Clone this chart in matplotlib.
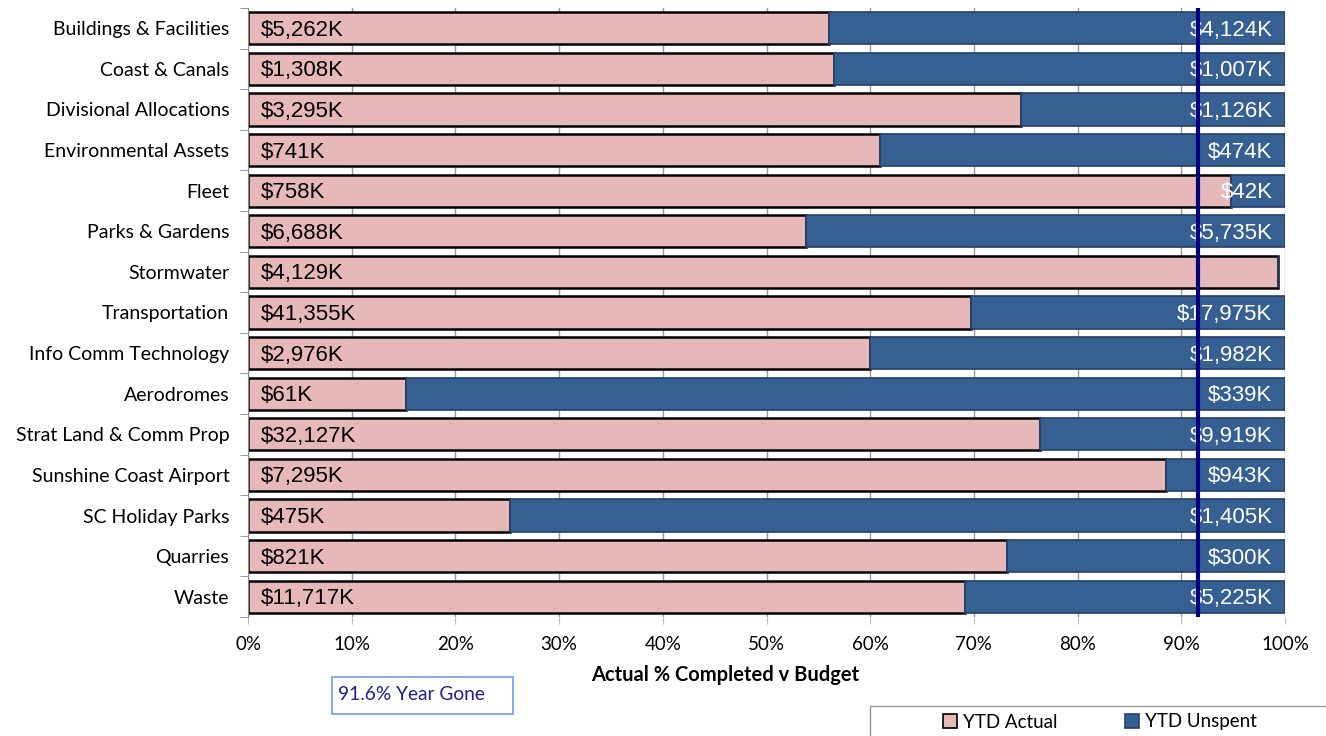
import matplotlib
matplotlib.use("Agg")
import matplotlib.pyplot as plt
from matplotlib.patches import Patch, Rectangle

# Data ($K)
categories = ['Buildings & Facilities', 'Coast & Canals', 'Divisional Allocations',
              'Environmental Assets', 'Fleet', 'Parks & Gardens', 'Stormwater',
              'Transportation', 'Info Comm Technology', 'Aerodromes',
              'Strat Land & Comm Prop', 'Sunshine Coast Airport', 'SC Holiday Parks',
              'Quarries', 'Waste']
ytd_actual = [5262, 1308, 3295, 741, 758, 6688, 4129, 41355, 2976, 61,
              32127, 7295, 475, 821, 11717]
ytd_unspent = [4124, 1007, 1126, 474, 42, 5735, -29, 17975, 1982, 339,
               9919, 943, 1405, 300, 5225]
year_gone = 0.916

pink = '#E6B9B8'
blue = '#376092'
W, H = 1326, 736

totals = [a + abs(u) for a, u in zip(ytd_actual, ytd_unspent)]
act_frac = [a / t for a, t in zip(ytd_actual, totals)]
uns_frac = [max(u, 0) / t for u, t in zip(ytd_unspent, totals)]

fig = plt.figure(figsize=(W / 100, H / 100), dpi=100)
ax = fig.add_axes([248 / W, 1 - 617 / H, 1037 / W, 609 / H])

y = list(range(len(categories)))
ax.barh(y, act_frac, height=0.79, color=pink, edgecolor='black', linewidth=1.8, zorder=2)
ax.barh(y, uns_frac, left=act_frac, height=0.79, color=blue, edgecolor='#24406A',
        linewidth=1.2, zorder=2)

for i in y:
    ax.text(0.012, i + 0.05, f'${ytd_actual[i]:,}K', ha='left', va='center', fontsize=16,
            family='Liberation Sans', color='black', zorder=3)
    if ytd_unspent[i] > 0:
        ax.text(0.988, i + 0.05, f'${ytd_unspent[i]:,}K', ha='right', va='center', fontsize=16,
                family='Liberation Sans', color='white', zorder=3)

# year gone marker, drawn over the labels
ax.axvline(year_gone, color='#000080', linewidth=3, zorder=5)

ax.set_xlim(0, 1)
ax.set_ylim(len(categories) - 0.5, -0.5)
ax.set_xticks([i / 10 for i in range(11)])
ax.set_xticklabels([f'{i * 10}%' for i in range(11)], family='Lato', fontsize=13.5)
ax.set_yticks(y)
ax.set_yticklabels(categories, family='Lato', fontsize=14)
ax.set_yticks([i + 0.5 for i in range(-1, len(categories))], minor=True)
ax.tick_params(axis='y', which='major', length=0, pad=13.5)
ax.tick_params(axis='y', which='minor', length=6, color='#888888')
ax.tick_params(axis='x', length=5, color='#bbbbbb', pad=9)
ax.xaxis.grid(True, color='#999999', linewidth=1, zorder=0)
ax.set_axisbelow(True)
for side in ['top', 'right', 'bottom']:
    ax.spines[side].set_visible(False)
ax.spines['left'].set_color('#888888')
ax.set_xlabel('Actual % Completed v Budget', family='Lato', fontsize=14.5,
              fontweight='bold')
ax.xaxis.set_label_coords((725 - 248) / 1037, -(675 - 617) / 609)
ax.xaxis.label.set_va('center')

# "Year Gone" box
fig.patches.append(Rectangle((332 / W, 1 - 714 / H), 181 / W, 37 / H, transform=fig.transFigure,
                             facecolor='white', edgecolor='#6F9FE0', linewidth=1.2))
fig.text(338 / W, 1 - 695 / H, '91.6% Year Gone', color='#1F1F8F', family='Lato',
         fontsize=13.8, va='center', ha='left')

# legend frame runs off the bottom-right edge
fig.patches.append(Rectangle((870 / W, -0.05), 470 / W, 0.05 + 30 / H, transform=fig.transFigure,
                             facecolor='white', edgecolor='#999999', linewidth=1))
handles = [Patch(facecolor=pink, edgecolor='black', linewidth=1.2, label='YTD Actual'),
           Patch(facecolor=blue, edgecolor='#24406A', linewidth=1.2, label='YTD Unspent')]
fig.legend(handles=handles, loc='center', ncol=2,
           bbox_to_anchor=(1100 / W, 1 - 722 / H),
           frameon=False, prop={'family': 'Lato', 'size': 13.5},
           handlelength=0.75, handleheight=0.75, handletextpad=0.3, columnspacing=3.6)

fig.savefig('out.png', dpi=100)
